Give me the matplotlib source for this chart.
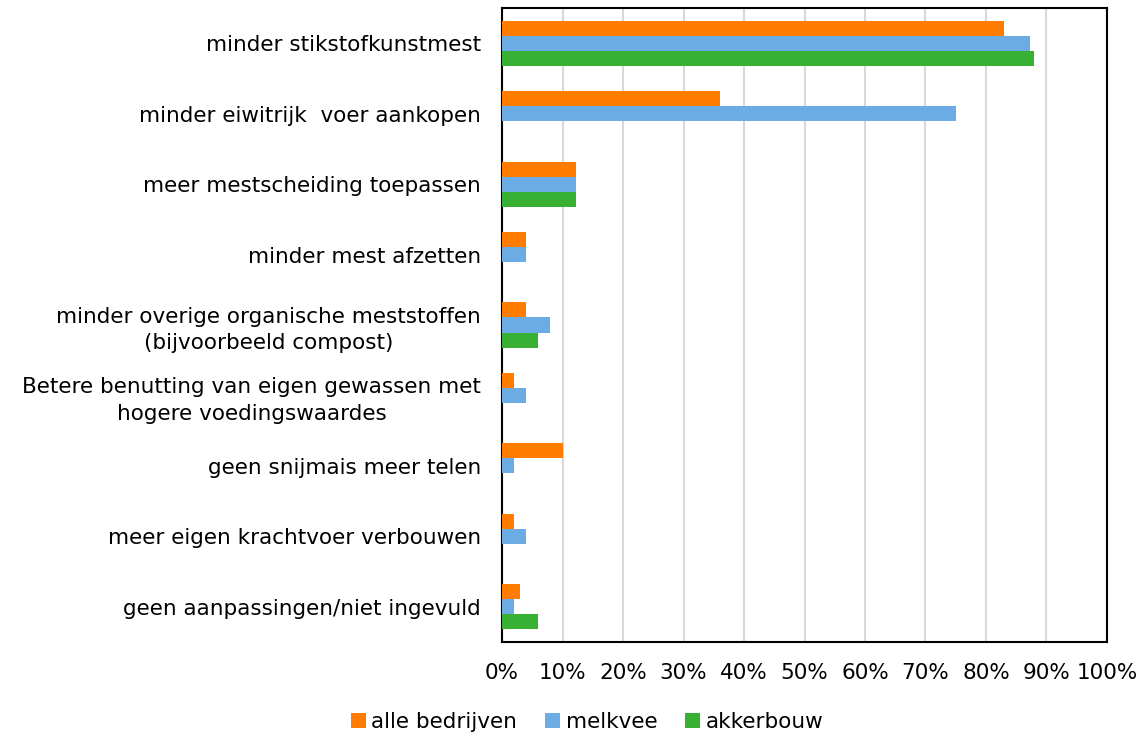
import numpy as np
import matplotlib.pyplot as plt
from matplotlib.ticker import PercentFormatter

categories = [
    "minder stikstofkunstmest",
    "minder eiwitrijk  voer aankopen",
    "meer mestscheiding toepassen",
    "minder mest afzetten",
    "minder overige organische meststoffen\n(bijvoorbeeld compost)",
    "Betere benutting van eigen gewassen met\nhogere voedingswaardes",
    "geen snijmais meer telen",
    "meer eigen krachtvoer verbouwen",
    "geen aanpassingen/niet ingevuld",
]
alle_bedrijven = [83, 36, 12.2, 4, 4, 2, 10, 2, 3]
melkvee = [87.2, 75, 12.2, 4, 8, 4, 2, 4, 2]
akkerbouw = [88, 0, 12.2, 0, 6, 0, 0, 0, 6]

series = [
    ("alle bedrijven", alle_bedrijven, "#FF7C00"),
    ("melkvee", melkvee, "#6CACE4"),
    ("akkerbouw", akkerbouw, "#37B034"),
]

fig = plt.figure(figsize=(11.47, 7.37), dpi=100)
ax = fig.add_axes([0.4377, 0.129, 0.5274, 0.860])

y = np.arange(len(categories))
h = 0.214
for i, (name, vals, col) in enumerate(series):
    ax.barh(y + (i - 1) * h, vals, height=h, color=col, label=name, zorder=3)

ax.set_xlim(0, 100)
ax.set_ylim(len(categories) - 0.5, -0.5)
ax.set_xticks(np.arange(0, 101, 10))
ax.xaxis.set_major_formatter(PercentFormatter(decimals=0))
ax.set_yticks(y)
ax.set_yticklabels(categories, linespacing=1.4)
for lab in ax.get_yticklabels():
    lab.set_multialignment("center")
ax.tick_params(axis="both", length=0, labelsize=15.5, colors="#000000")
ax.tick_params(axis="x", pad=15)
ax.tick_params(axis="y", pad=15)
ax.grid(axis="x", color="#d9d9d9", linewidth=1.5, zorder=0)
for s in ax.spines.values():
    s.set_linewidth(1.5)
    s.set_color("black")

fig.legend(loc="lower center", bbox_to_anchor=(0.512, -0.02), ncol=3, frameon=False,
           fontsize=15.5, handlelength=0.7, handleheight=0.7, handletextpad=0.25,
           columnspacing=1.3)

fig.savefig("out.png", dpi=100)
